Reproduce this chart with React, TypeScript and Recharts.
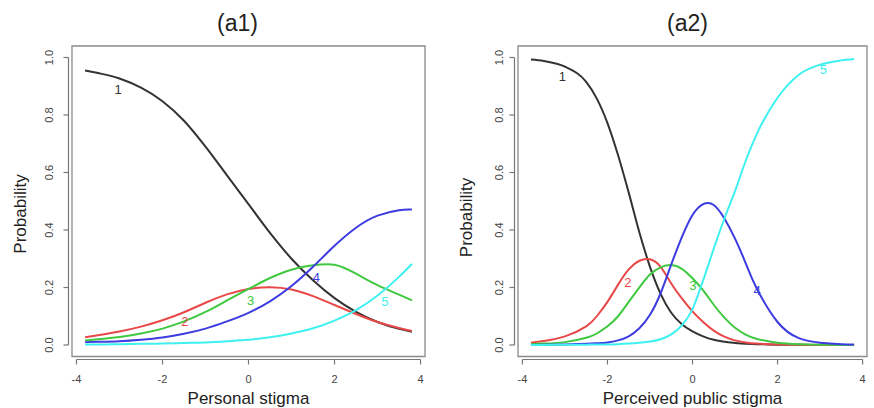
import React from 'react';
import {
  ComposedChart,
  Line,
  XAxis,
  YAxis,
  ReferenceArea,
  ReferenceLine,
  ReferenceDot,
} from 'recharts';

const FONT = '"Liberation Sans", Arial, Helvetica, sans-serif';

// ---------- data ----------
const xTicks = [-4, -2, 0, 2, 4];
const yTicks = [0, 0.2, 0.4, 0.6, 0.8, 1.0];
const yTickLabels = ['0.0', '0.2', '0.4', '0.6', '0.8', '1.0'];

const categories = ['1', '2', '3', '4', '5'];
const colors = ['#333333', '#e84848', '#40c840', '#3c3ce0', '#3ff0f0'];
const curveTypes = ['monotone', 'natural', 'natural', 'natural', 'monotone'];

// Panel (a1): Personal stigma
const xs1 = [-3.8, -3.5, -3, -2.5, -2, -1.5, -1, -0.5, 0, 0.5, 1, 1.5, 2, 2.5, 3, 3.5, 3.8];
const a1Cat1 = [0.955, 0.946, 0.927, 0.895, 0.848, 0.78, 0.69, 0.59, 0.49, 0.39, 0.3, 0.225, 0.163, 0.115, 0.08, 0.056, 0.046];
const a1Cat2 = [0.027, 0.034, 0.047, 0.064, 0.086, 0.114, 0.147, 0.176, 0.195, 0.201, 0.193, 0.17, 0.139, 0.108, 0.08, 0.059, 0.049];
const a1Cat3 = [0.016, 0.02, 0.028, 0.04, 0.057, 0.082, 0.115, 0.155, 0.195, 0.233, 0.262, 0.277, 0.279, 0.248, 0.208, 0.175, 0.155];
const a1Cat4 = [0.01, 0.011, 0.013, 0.018, 0.026, 0.039, 0.057, 0.082, 0.112, 0.152, 0.205, 0.272, 0.345, 0.408, 0.45, 0.469, 0.471];
const a1Cat5 = [0.002, 0.002, 0.003, 0.004, 0.005, 0.007, 0.009, 0.013, 0.018, 0.027, 0.04, 0.058, 0.085, 0.121, 0.172, 0.237, 0.282];
const a1LabelX = [-3.03, -1.48, 0.05, 1.58, 3.17];
const a1LabelY = [0.89, 0.081, 0.155, 0.236, 0.15];

// Panel (a2): Perceived public stigma
const xs2 = [-3.8, -3.5, -3, -2.5, -2.25, -2, -1.75, -1.5, -1.25, -1, -0.75, -0.5, -0.25, 0, 0.25, 0.5, 0.75, 1, 1.25, 1.5, 2, 2.5, 3, 3.5, 3.8];
const a2Cat1 = [0.993, 0.988, 0.968, 0.915, 0.857, 0.772, 0.66, 0.53, 0.392, 0.272, 0.178, 0.112, 0.072, 0.047, 0.03, 0.018, 0.011, 0.007, 0.004, 0.003, 0.001, 0.0005, 0.0002, 0.0001, 0];
const a2Cat2 = [0.008, 0.014, 0.03, 0.065, 0.1, 0.15, 0.21, 0.263, 0.293, 0.298, 0.272, 0.214, 0.162, 0.117, 0.08, 0.05, 0.029, 0.016, 0.009, 0.005, 0.002, 0.001, 0, 0, 0];
const a2Cat3 = [0.003, 0.005, 0.01, 0.025, 0.04, 0.065, 0.1, 0.15, 0.2, 0.245, 0.27, 0.278, 0.265, 0.232, 0.19, 0.14, 0.095, 0.06, 0.036, 0.022, 0.008, 0.003, 0.001, 0, 0];
const a2Cat4 = [0, 0.001, 0.002, 0.004, 0.006, 0.009, 0.016, 0.03, 0.058, 0.105, 0.18, 0.28, 0.375, 0.452, 0.49, 0.487, 0.44, 0.37, 0.285, 0.2, 0.08, 0.024, 0.008, 0.003, 0.002];
const a2Cat5 = [0, 0, 0.001, 0.001, 0.002, 0.002, 0.003, 0.005, 0.008, 0.012, 0.02, 0.037, 0.068, 0.125, 0.225, 0.335, 0.44, 0.535, 0.64, 0.73, 0.86, 0.94, 0.975, 0.99, 0.995];
const a2LabelX = [-3.06, -1.52, 0.01, 1.52, 3.08];
const a2LabelY = [0.934, 0.217, 0.206, 0.19, 0.957];

// R-style axis extent (4% padding)
const X_DOMAIN: [number, number] = [-4.104, 4.104];
const Y_DOMAIN: [number, number] = [-0.04, 1.04];

function buildRows(xs: number[], series: number[][]) {
  return xs.map((x, i) => {
    const row: any = { x };
    series.forEach((s, k) => {
      row['c' + (k + 1)] = s[i];
    });
    return row;
  });
}

type PanelProps = {
  title: string;
  xTitle: string;
  rows: any[];
  labelX: number[];
  labelY: number[];
  left: number;
  yAxisWidth: number;
  rightMargin: number;
  yTickTextOffset: number;
  yTitleCenter: number;
};

function Panel(p: PanelProps) {
  const XTick = (props: any) => {
    const { x, y, payload } = props;
    return (
      <g>
        <line x1={x} x2={x} y1={y + 3} y2={y + 8} stroke="#777" strokeWidth={1.2} />
        <text x={x} y={y + 26} textAnchor="middle" fontSize={11} fill="#444" fontFamily={FONT}>
          {payload.value}
        </text>
      </g>
    );
  };
  const YTick = (props: any) => {
    const { x, y, payload, index } = props;
    const bx = x - p.yTickTextOffset;
    const label = yTickLabels[yTicks.indexOf(payload.value)] ?? String(payload.value);
    return (
      <g key={index}>
        <line x1={x - 3.5} x2={x - 8.5} y1={y} y2={y} stroke="#777" strokeWidth={1.2} />
        <text
          x={bx}
          y={y}
          transform={`rotate(-90 ${bx} ${y})`}
          textAnchor="middle"
          fontSize={11}
          fill="#444"
          fontFamily={FONT}
        >
          {label}
        </text>
      </g>
    );
  };
  const XTitle = (props: any) => {
    const vb = props.viewBox || {};
    return (
      <text
        x={vb.x + vb.width / 2}
        y={vb.y + 47.5}
        textAnchor="middle"
        fontSize={17}
        fill="#222"
        fontFamily={FONT}
      >
        {p.xTitle}
      </text>
    );
  };
  const YTitle = (props: any) => {
    const vb = props.viewBox || {};
    const bx = vb.x + vb.width - 46;
    const cy = p.yTitleCenter;
    return (
      <text
        x={bx}
        y={cy}
        transform={`rotate(-90 ${bx} ${cy})`}
        textAnchor="middle"
        fontSize={17}
        fill="#222"
        fontFamily={FONT}
      >
        Probability
      </text>
    );
  };

  return (
    <div style={{ position: 'absolute', left: p.left, top: 0 }}>
      <ComposedChart
        width={437}
        height={408}
        data={p.rows}
        margin={{ top: 46, right: p.rightMargin, left: 0, bottom: 0 }}
      >
        <XAxis
          type="number"
          dataKey="x"
          domain={X_DOMAIN}
          ticks={xTicks}
          interval={0}
          height={51.5}
          axisLine={false}
          tickLine={false}
          tickSize={0}
          tickMargin={0}
          tick={XTick}
          allowDataOverflow
          label={XTitle}
        />
        <YAxis
          type="number"
          domain={Y_DOMAIN}
          ticks={yTicks}
          interval={0}
          width={p.yAxisWidth}
          axisLine={false}
          tickLine={false}
          tickSize={0}
          tickMargin={0}
          tick={YTick}
          allowDataOverflow
          label={YTitle}
        />
        <ReferenceArea
          x1={X_DOMAIN[0]}
          x2={X_DOMAIN[1]}
          y1={Y_DOMAIN[0]}
          y2={Y_DOMAIN[1]}
          fill="none"
          fillOpacity={0}
          stroke="#8a8a8a"
          strokeWidth={1.3}
          ifOverflow="visible"
        />
        <ReferenceLine
          segment={[{ x: xTicks[0], y: Y_DOMAIN[0] }, { x: xTicks[xTicks.length - 1], y: Y_DOMAIN[0] }]}
          ifOverflow="visible"
          shape={(s: any) => (
            <line x1={s.x1} x2={s.x2} y1={s.y1 + 3} y2={s.y2 + 3} stroke="#777" strokeWidth={1.2} />
          )}
        />
        <ReferenceLine
          segment={[{ x: X_DOMAIN[0], y: yTicks[0] }, { x: X_DOMAIN[0], y: yTicks[yTicks.length - 1] }]}
          ifOverflow="visible"
          shape={(s: any) => (
            <line x1={s.x1 - 3.5} x2={s.x2 - 3.5} y1={s.y1} y2={s.y2} stroke="#777" strokeWidth={1.2} />
          )}
        />
        {categories.map((c, k) => (
          <Line
            key={c}
            dataKey={'c' + (k + 1)}
            type={curveTypes[k] as any}
            stroke={colors[k]}
            strokeWidth={2}
            dot={false}
            activeDot={false}
            isAnimationActive={false}
          />
        ))}
        {categories.map((c, k) => (
          <ReferenceDot
            key={'lab' + c}
            x={p.labelX[k]}
            y={p.labelY[k]}
            r={0}
            ifOverflow="visible"
            shape={(s: any) => (
              <text
                x={s.cx}
                y={s.cy}
                textAnchor="middle"
                dominantBaseline="central"
                fontSize={13}
                fill={colors[k]}
                fontFamily={FONT}
              >
                {c}
              </text>
            )}
          />
        ))}
      </ComposedChart>
    </div>
  );
}

export default function App() {
  const rows1 = buildRows(xs1, [a1Cat1, a1Cat2, a1Cat3, a1Cat4, a1Cat5]);
  const rows2 = buildRows(xs2, [a2Cat1, a2Cat2, a2Cat3, a2Cat4, a2Cat5]);
  return (
    <div
      style={{
        position: 'absolute',
        left: 0,
        top: 0,
        width: 874,
        height: 408,
        background: '#fff',
        overflow: 'hidden',
      }}
    >
      <Panel
        title="(a1)"
        xTitle="Personal stigma"
        rows={rows1}
        labelX={a1LabelX}
        labelY={a1LabelY}
        left={0}
        yAxisWidth={72}
        rightMargin={12}
        yTickTextOffset={19}
        yTitleCenter={214}
      />
      <Panel
        title="(a2)"
        xTitle="Perceived public stigma"
        rows={rows2}
        labelX={a2LabelX}
        labelY={a2LabelY}
        left={437}
        yAxisWidth={81}
        rightMargin={7}
        yTickTextOffset={15.5}
        yTitleCenter={217.5}
      />
      <svg
        width={874}
        height={408}
        style={{ position: 'absolute', left: 0, top: 0, pointerEvents: 'none' }}
      >
        <text x={237.5} y={30.5} textAnchor="middle" fontSize={23} fill="#222" fontFamily={FONT}>
          (a1)
        </text>
        <text x={687.5} y={31} textAnchor="middle" fontSize={23} fill="#222" fontFamily={FONT}>
          (a2)
        </text>
      </svg>
    </div>
  );
}
